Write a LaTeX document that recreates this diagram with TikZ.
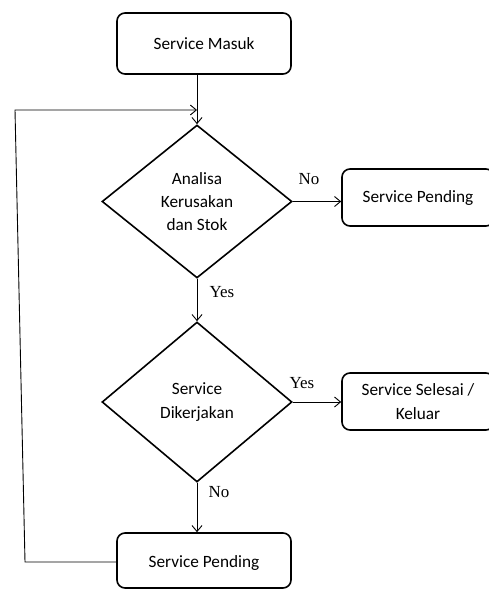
\documentclass[tikz,border=0pt]{standalone}
\usepackage{fontspec}
\setmainfont{Carlito}
\newfontfamily\labfont{Liberation Serif}
\usetikzlibrary{shapes.geometric,arrows.meta}
\begin{document}
\begin{tikzpicture}[x=1bp,y=-1bp,
  proc/.style={draw, rounded corners=8bp, line width=1.6bp, inner sep=0pt,
    align=center, font=\fontsize{17.3}{23.5}\selectfont},
  dec/.style={draw, diamond, line width=1.6bp, inner sep=0pt, align=center,
    font=\fontsize{17.3}{23.5}\selectfont},
  conn/.style={line width=0.9bp},
  arr/.style={conn, -{Straight Barb[length=6bp,width=10bp]}},
  lab/.style={font=\labfont\fontsize{17}{18}\selectfont, inner sep=0pt}
]
\useasboundingbox (0,0) rectangle (489,590);

\node[proc, minimum width=174bp, minimum height=61bp] (masuk) at (204,43.5) {Service Masuk};
\node[dec, minimum width=190bp, minimum height=153bp] (d1) at (197,201.5) {Analisa\\Kerusakan\\dan Stok};
\node[proc, minimum width=152bp, minimum height=57bp] (sp1) at (418,197.5) {Service Pending};
\node[dec, minimum width=190bp, minimum height=160bp] (d2) at (197,402) {Service\\Dikerjakan};
\node[proc, minimum width=152bp, minimum height=57bp] (sel) at (418,401.5) {Service Selesai /\\Keluar};
\node[proc, minimum width=174bp, minimum height=55bp, text depth=0pt] (sp2) at (204,560.5) {\raisebox{-3bp}{Service Pending}};

\node[lab] (no1) at (309,179) {No};
\node[lab] (yes1) at (222,292) {Yes};
\node[lab] (yes2) at (302,383) {Yes};
\node[lab] (no2) at (219,492) {No};

\coordinate (c1) at (25,562);
\coordinate (c2) at (15,110);

\draw[arr] (masuk.south -| d1.north) -- (d1.north);
\draw[arr] (d1.east) -- (d1.east -| sp1.west);
\draw[arr] (d1.south) -- (d2.north);
\draw[arr] (d2.east) -- (d2.east -| sel.west);
\draw[arr] (d2.south) -- (d2.south |- sp2.north);
\draw[arr] (sp2.west |- c1) -- (c1) -- (c2) -- (c2 -| d1.north);
\end{tikzpicture}
\end{document}
